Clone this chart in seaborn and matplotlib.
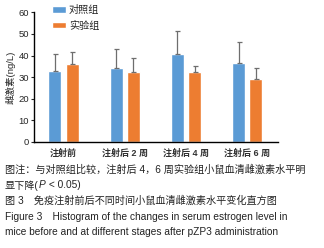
import matplotlib
matplotlib.use("Agg")
import matplotlib.pyplot as plt
import numpy as np
import pandas as pd
import seaborn as sns

# データ
time_points = ["注射前", "注射后 2 周", "注射后 4 周", "注射后 6 周"]
groups = ["对照组", "实验组"]
control_mean = [32.7, 34.1, 40.8, 36.7]
control_sd = [7.9, 9.0, 10.8, 9.5]
treat_mean = [36.1, 32.6, 32.6, 29.2]
treat_sd = [5.4, 6.3, 2.4, 4.9]

colors = ["#5B9BD5", "#ED7D31"]

sns.set_style("white")
plt.rcParams["font.family"] = ["Liberation Sans", "Noto Sans CJK SC", "DejaVu Sans"]

df = pd.DataFrame({
    "time": time_points * 2,
    "group": [groups[0]] * 4 + [groups[1]] * 4,
    "value": control_mean + treat_mean,
})

fig = plt.figure(figsize=(3.24, 2.48), dpi=100)
ax = fig.add_axes([0.105, 0.428, 0.753, 0.522])

sns.barplot(data=df, x="time", y="value", hue="group", order=time_points,
            hue_order=groups, palette=colors, width=0.56, gap=0.24,
            errorbar=None, saturation=1, ax=ax)

# 上方向のみのエラーバー
sds = [control_sd, treat_sd]
means = [control_mean, treat_mean]
bar_containers = list(ax.containers)
for gi, container in enumerate(bar_containers):
    xs = [p.get_x() + p.get_width() / 2 for p in container.patches]
    ax.errorbar(xs, means[gi], yerr=[np.zeros(4), sds[gi]], fmt="none",
                ecolor="#6e6e6e", elinewidth=0.9, capsize=1.8, capthick=0.9)

ax.set_ylim(0, 60)
ax.set_yticks(range(0, 61, 10))
ax.set_xlim(-0.48, 3.5)
sns.despine(ax=ax)
for s in ["left", "bottom"]:
    ax.spines[s].set_linewidth(1.0)
    ax.spines[s].set_color("black")
ax.tick_params(axis="y", direction="out", length=2.5, width=0.8, labelsize=6.8,
               pad=1, left=True)
ax.tick_params(axis="x", length=0, labelsize=6.5, pad=5)
for lab in ax.get_xticklabels():
    lab.set_fontweight("bold")
    lab.set_color("#333333")
ax.set_xlabel("")
ax.set_ylabel("雌激素(ng/L)", fontsize=6.8, labelpad=2)

ax.legend(loc="upper left", bbox_to_anchor=(0.074, 1.058), frameon=False,
          fontsize=7.3, handlelength=1.4, handleheight=0.6, labelspacing=0.55,
          handletextpad=0.25, borderaxespad=0, borderpad=0)

# 図注とキャプション
fs = 7.3
tc = "#222222"
x0 = 5 / 324
fig.text(x0, 1 - 170 / 248, "图注：与对照组比较，注射后 4，6 周实验组小鼠血清雌激素水平明",
         fontsize=fs, va="center", ha="left", color=tc)
# 2行目：P をイタリックに
t1 = fig.text(x0, 1 - 185.5 / 248, "显下降(", fontsize=fs, va="center",
              ha="left", color=tc)
t2 = ax.annotate("P", xy=(1, 0.5), xycoords=t1, fontsize=fs, va="center",
                 ha="left", color=tc, style="italic")
ax.annotate(" < 0.05)", xy=(1, 0.5), xycoords=t2, fontsize=fs, va="center",
            ha="left", color=tc)
fig.text(x0, 1 - 201 / 248, "图 3　免疫注射前后不同时间小鼠血清雌激素水平变化直方图",
         fontsize=fs, va="center", ha="left", color=tc)
fig.text(x0, 1 - 216.5 / 248, "Figure 3　Histogram of the changes in serum estrogen level in",
         fontsize=fs, va="center", ha="left", color=tc)
fig.text(x0, 1 - 232 / 248, "mice before and at different stages after pZP3 administration",
         fontsize=fs, va="center", ha="left", color=tc)

fig.savefig("out.png", dpi=100)
